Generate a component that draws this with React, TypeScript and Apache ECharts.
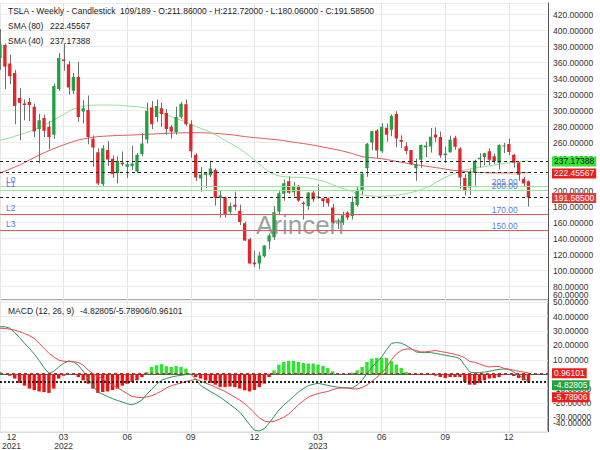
import React, { useEffect, useRef } from 'react';
import * as echarts from 'echarts';

const START = Date.UTC(2021, 11, 29);
const N = 109;
const PAD = 4;
const categories = Array.from({ length: N + PAD }, (_, i) =>
  new Date(START + i * 7 * 86400000).toISOString().slice(0, 10)
);

const openP = [366,382,359,347,316,309,311,305,277,291,
280,270,327,364,358,325,342,299,301,265,
248,208,251,240,222,235,230,231,224,246,
264,304,292,303,297,280,273,292,308,283,
245,215.3,219.8,219.4,226,190.8,191.5,173.6,182.4,175,
159.3,139.3,110.4,109.1,118,136.6,141.9,173.9,196.1,211.8,
197.9,206.2,185,180.8,197.6,191.3,190.5,190.7,179.1,160.3,
160,172.6,168.4,182,199.8,228,260.2,275.1,249.2,278.8,
276.3,296,263.3,255.6,250.9,228,238.7,254.2,255.1,270.1,
267,244.3,248.1,266.2,252.7,215.9,204,223.2,239.3,242,
249.2,242.9,234.8,256.4,258.4,245,235.1,214.9,211.86];
const highP = [402,384,370,351,328,314,316,309,296,295,
287,334,372,384,362,347,361,313,319,269,
253,257,262,244,243,249,237,256,247,272,
310,312,314,310,302,282,305,311,314,288,
246.7,229.8,222.9,237.4,227.8,200.8,192.6,185.2,198.9,182.5,
161.6,141.3,124.5,123.5,131.7,146.5,180.7,199.3,214,217.7,
211.2,207.2,186.5,198,200.7,207.8,190.7,191.6,183.5,165,
173.8,174.4,193,204.5,221.9,259.7,274.8,277,284.3,283.9,
295.3,299.3,269.1,260.5,250.9,240,257.5,261.2,278.4,279,
273.9,254.8,268.9,268.6,254.6,220.6,226.4,238.8,246.7,247.5,
252.8,246.7,258,259.8,265.1,245.7,235.5,217,212.72];
const lowP = [351,327,333,283,263,288,287,267,234,267,
252,265,325,350,320,321,286,284,258,230,
207,206,231,216,209,231,216,226,222,243,
259,277,286,280,270,265,270,290,281,241,
212,198.6,203.5,217,181.4,166.2,166.2,170,175.3,156.9,
137.1,108.8,104.6,101.8,116.5,127,138.5,169.5,187.6,196,
192.8,186,163.9,176.1,185.8,189.8,179.7,180.2,158.8,152.4,
157.2,163.3,164,180,195.1,217.3,250.9,240.7,247.3,261.2,
268.1,254.1,253.5,245.3,232.4,212.4,228.6,242.1,247.6,260.6,
241,234.6,247.6,251,202.5,194.1,194.6,206.2,229,231.5,
231.9,233.3,226.4,247,244.4,228.9,212.4,206,180.06];
const closeP = [383,355,343,306,310,307,307,274,288,275,
267,331,366,362,329,342,292,303,267,254,
209,253,239,221,237,233,233,234,245,259,
300,283,306,296,277,274,292,308.7,283,249.4,
216.5,220.2,222.4,227.8,191.3,194.4,169.9,180.8,179.8,161,
137.8,109.1,108.1,118.9,131.5,143.9,173.2,196.8,209.3,197.4,
205.7,187.7,183.3,197.6,189.2,192.6,186.8,184.3,160.7,160.3,
169.2,166.5,185.8,201.2,221.3,258.7,274.5,250.2,279.8,269.8,
293.3,265.3,261.1,249.7,233,233.2,257.2,256.5,267.5,266.5,
244.1,246.5,263.6,254.9,216.5,200.8,222.2,237.4,241.2,246.7,
238.7,237,257.2,256.6,248.4,235,219.9,209.1,191.585];

const sma40 = [263,264.5,266,268,270,272,274,276,279,282,
285,288,292,295.5,299,302,304,305.5,306.5,307,
307,307,307,307,307,306.5,306,305.5,305,304,
303,301,299,297,295,292.5,290,288,286,283,
280.5,278,275.5,273,270,266.5,263,259.5,256,252.5,
248,243.5,238.5,233,228,223.5,220.5,218.5,217.5,217,
216.8,216.6,216.3,216,215,213.5,212,210,207.5,205,
203,201,199,196.5,195,194,193.5,193,193,193.2,
193.6,194.3,195.2,196.3,197.7,199.3,201.2,203.5,206.5,210,
213.5,216.5,219.3,221.8,224,225.8,227.2,228.4,229.3,230,
231,232,233,234,234.8,235.6,236.2,236.8,237.17388];
const sma80 = [222,224.5,227,229.5,232,235,238.2,241.4,244.6,247.3,
250,252.5,255,257.2,259.4,261.5,263.4,264.6,265.7,266.7,
267.6,268,268.4,268.7,269,269.2,269.4,269.6,269.9,270.2,
270.5,270.8,271.1,271.4,271.7,271.9,272.1,272.3,272.4,272.5,
272.5,272.5,272.3,272,271.6,271.2,270.7,270.1,269.4,268.5,
267.6,267,266.4,265.8,265.2,264.6,264,263.4,262.5,261.6,
260.7,259.8,258.9,258,257,255.8,254.6,253.4,252.2,251,
249.6,248,246.5,244.5,242.5,241.8,241.2,240.6,240,238.9,
237.8,236.7,235.6,234.5,233.4,232.5,231.6,230.7,229.8,228.9,
228,227,226,225.3,224.6,224,223.5,223.1,222.8,222.6,
222.4,222.3,222.2,222.2,222.2,222.3,222.4,222.45,222.45567];

const macdLine = [33,33,32,29,25.5,21.5,18,14,9.5,4.5,
0.6,2,5,7.5,9.2,8.5,6.2,2,-3,-8,
-12.4,-14,-15.5,-17,-18.3,-19.4,-20.5,-21.3,-20,-18,
-14,-10.5,-7,-4.3,-3,-2,-1.3,-0.8,-0.3,0,
-3.5,-7.8,-10,-12,-14,-16,-18.5,-21,-23.5,-26.4,
-30.5,-35,-39,-39.5,-38,-34,-29.5,-25,-21.5,-18.5,
-15.5,-12.4,-10,-8,-7,-6.4,-7,-7.8,-8.5,-9,
-9.3,-9.5,-9.6,-7.5,-4.3,0.5,5,8.5,12,17,
21.4,22,21.6,20,17.9,15.5,15,15,15,14.5,
13.8,13.2,12.5,12,10.9,6,1.5,1,1.2,1.5,
2,2.7,3.4,3.6,3.4,1.5,-0.7,-2.8,-4.82805];
const signalLine = [32,31.8,31.3,30.6,29.6,28.3,26.8,24.9,21.5,18,
14.5,12,9.8,9,8.8,8.7,8.2,6.2,3,0.5,
-1.5,-3.5,-5,-7.5,-9.5,-11.4,-13.5,-15.5,-16,-16.3,
-15.8,-15,-13.5,-11.8,-9.5,-8,-7,-6.2,-5,-4.3,
-3.5,-4.8,-6.2,-7.5,-9,-10.5,-12,-14,-16,-18,
-20.5,-23.5,-27,-30.5,-32.5,-33.2,-32.8,-31.5,-30,-27.7,
-24.5,-21.2,-18.5,-16,-14.5,-13.5,-12.7,-12,-10.8,-9.8,
-9.6,-9.7,-10.2,-10.2,-9.3,-7.5,-5,-2.2,0.7,4.5,
10,14,16.5,17.5,17.5,16.5,15.5,15.5,16,16.5,
15.8,15.2,14.5,13.8,12.9,11.4,8.8,8.3,7.2,5.8,
5,5.4,5.4,4.1,3.4,2.8,2,1.5,0.96101];
const histogram = [1.5,0,-1,-3,-6,-8,-10,-11,-12,-12.4,
-13,-10,-3,-1,0.3,-0.3,-2,-4.3,-6.6,-10,
-13,-12.4,-12,-11,-10,-8,-6.6,-5.4,-4.3,-2,
1.5,5,6.2,7,5.5,5,5.7,5,3.9,0.4,
-2,-3,-4.3,-6,-7.3,-9,-9,-8.6,-9,-10,
-11.2,-12,-11,-9,-6.6,-2,2.7,6.7,8.5,9.2,
9.2,8.5,7.8,7.4,7.4,6.7,5.7,4.3,2,0.4,
0.2,0.2,1.1,2.7,5,8.5,10.9,11.3,11.3,11.3,
9,6.7,4.3,1.5,-0.5,-0.5,-0.5,-0.5,-0.5,-1,
-2,-2.7,-2,-2,-2,-5.4,-7.3,-7.3,-6,-4.3,
-3,-2.7,-2,-0.5,0,-1.3,-2.7,-4.3,-5.78906];

const tickIndex = [0, 13, 26, 39, 52, 65, 78, 91, 104];
const tickLabels = ['12\n2021', '03\n2022', '06', '09', '12', '03\n2023', '06', '09', '12'];

const levelValues = [205, 200, 170, 150];
const levelNames = ['L0', 'L1', 'L2', 'L3'];
const levelTexts = ['205.00', '200.00', '170.00', '150.00'];
const levelColors = ['#93e893', '#93e893', '#e05a5a', '#e05a5a'];

const lastClose = 191.585;
const lastSma80 = 222.45567;
const lastSma40 = 237.17388;
const lastMacd = -4.82805;
const lastHist = -5.78906;
const lastSignal = 0.96101;

const FONT = '"Liberation Sans", Arial, sans-serif';
const FS = 8.5;
const GREEN = '#22a042';
const RED = '#e2262b';

export default function App() {
  const ref = useRef<HTMLDivElement>(null);
  useEffect(() => {
    const chart = echarts.init(ref.current!, null, { renderer: 'svg' });
    const pad = (arr: number[]) => [...arr, ...Array(PAD).fill(null)];
    const candleData = openP.map((o, i) => [i, o, closeP[i], lowP[i], highP[i]]);
    const isTick = (i: number) => tickIndex.includes(i);

    const dashed = (v: number, color: string, type: any, width = 1) => ({
      yAxis: v,
      lineStyle: { color, type, width },
      label: { show: false },
    });

    chart.setOption({
      animation: false,
      textStyle: { fontFamily: FONT },
      grid: [
        { left: 0, right: 52, top: 3, height: 299.7, outerBoundsMode: 'none', containLabel: false },
        { left: 0, right: 52, top: 300, bottom: 18.3, show: true, borderColor: '#555', borderWidth: 1, outerBoundsMode: 'none', containLabel: false },
      ],
      xAxis: [
        {
          gridIndex: 0, type: 'category', data: categories, boundaryGap: false,
          axisLine: { show: false }, axisTick: { show: false }, axisLabel: { show: false },
          splitLine: { show: true, interval: (i: number) => isTick(i), lineStyle: { color: '#e6e6e6' } },
        },
        {
          gridIndex: 1, type: 'category', data: categories, boundaryGap: false,
          axisLine: { show: true, lineStyle: { color: '#555' } }, axisTick: { show: false },
          splitLine: { show: true, interval: (i: number) => isTick(i), lineStyle: { color: '#e6e6e6' } },
          axisLabel: {
            show: true, interval: (i: number) => isTick(i) && i > 0, fontSize: FS, color: '#333', lineHeight: 9, margin: 0.5,
            formatter: (_v: string, idx: number) => {
              const k = tickIndex.indexOf(idx);
              return k > 0 ? tickLabels[k] : '';
            },
          },
        },
      ],
      yAxis: [
        {
          gridIndex: 0, type: 'value', position: 'right', min: 60, max: 434.6, interval: 20,
          axisLine: { show: true, lineStyle: { color: '#555' } }, axisTick: { show: false },
          axisLabel: {
            fontSize: FS, color: '#333', margin: 5, showMaxLabel: false,
            formatter: (v: number) => (v % 20 === 0 && v > 60 ? v.toFixed(5) : ''),
          },
          splitLine: { lineStyle: { color: '#ececec' } },
        },
        {
          gridIndex: 1, type: 'value', position: 'right', min: -40, max: 51.6, interval: 10,
          axisLine: { show: true, lineStyle: { color: '#555' } }, axisTick: { show: false },
          axisLabel: {
            fontSize: FS, color: '#333', margin: 5, showMaxLabel: false,
            formatter: (v: number) => (Math.abs(v % 10) < 1e-6 && v > -40 ? v.toFixed(5) : ''),
          },
          splitLine: { lineStyle: { color: '#ececec' } },
        },
      ],
      series: [
        {
          name: 'SMA (80)', type: 'line', xAxisIndex: 0, yAxisIndex: 0, data: pad(sma80),
          symbol: 'none', lineStyle: { color: '#e25a5a', width: 1 }, z: 2,
          markLine: {
            silent: true, symbol: ['none', 'none'], animation: false,
            data: [
              dashed(lastSma40, '#222', [3, 3]),
              dashed(lastSma80, '#222', [3, 3]),
              dashed(lastClose, '#222', [3, 3]),
              ...levelValues.map((v, k) => dashed(v, levelColors[k], 'solid', 1.2)),
            ],
          },
        },
        {
          name: 'SMA (40)', type: 'line', xAxisIndex: 0, yAxisIndex: 0, data: pad(sma40),
          symbol: 'none', lineStyle: { color: '#8ee38e', width: 1 }, z: 2,
        },
        {
          name: 'TSLA', type: 'custom', xAxisIndex: 0, yAxisIndex: 0, data: candleData,
          encode: { x: 0, y: [1, 2, 3, 4] }, clip: true, z: 3,
          renderItem: (_p: any, api: any) => {
            const i = api.value(0);
            const o = api.value(1), c = api.value(2), l = api.value(3), h = api.value(4);
            const pO = api.coord([i, o]);
            const pC = api.coord([i, c]);
            const pL = api.coord([i, l]);
            const pH = api.coord([i, h]);
            const w = api.size([1, 0])[0] * 0.68;
            const x = Math.round(pO[0]) + 0.5;
            const up = c >= o;
            const top = Math.min(pO[1], pC[1]);
            const hgt = Math.max(1, Math.abs(pO[1] - pC[1]));
            return {
              type: 'group',
              children: [
                { type: 'line', shape: { x1: x, y1: pH[1], x2: x, y2: pL[1] }, style: { stroke: '#6e6e6e', lineWidth: 1 } },
                { type: 'rect', shape: { x: pO[0] - w / 2, y: top, width: w, height: hgt }, style: { fill: up ? GREEN : RED } },
              ],
            };
          },
        },
        {
          name: 'Histogram', type: 'bar', xAxisIndex: 1, yAxisIndex: 1, barWidth: 3.4,
          data: pad(histogram).map((v) => (v === null ? null : { value: v, itemStyle: { color: v >= 0 ? '#2fe42f' : '#ee1111' } })),
        },
        {
          name: 'MACD', type: 'line', xAxisIndex: 1, yAxisIndex: 1, data: pad(macdLine),
          symbol: 'none', lineStyle: { color: '#2f9155', width: 1 }, z: 3,
        },
        {
          name: 'Signal', type: 'line', xAxisIndex: 1, yAxisIndex: 1, data: pad(signalLine),
          symbol: 'none', lineStyle: { color: '#e24b4b', width: 1 }, z: 3,
          markLine: {
            silent: true, symbol: ['none', 'none'], animation: false,
            data: [
              dashed(lastSignal, '#a33', [3, 3]),
              dashed(lastMacd, '#222', [2, 2]),
              dashed(lastHist, '#222', [2, 2]),
            ],
          },
        },
      ],
    });

    const py = (axis: number, v: number) => chart.convertToPixel({ yAxisIndex: axis } as any, v) as unknown as number;
    const px = (idx: number) => chart.convertToPixel({ xAxisIndex: 0 } as any, idx) as unknown as number;

    const txt = (x: number, y: number, text: string, fill: string, extra: any = {}) => ({
      type: 'text', x, y, z: 100, silent: true,
      style: { text, fill, font: FS + 'px ' + FONT, align: 'left', verticalAlign: 'middle', ...extra },
    });

    const boxes = (axis: number, items: { v: number; t: string; bg: string; fg: string }[]) => {
      const arr = items.map((it) => ({ ...it, y: py(axis, it.v) })).sort((a, b) => a.y - b.y);
      for (let k = 1; k < arr.length; k++) if (arr[k].y < arr[k - 1].y + 12) arr[k].y = arr[k - 1].y + 12;
      return arr.map((it) => txt(552, it.y + 0.5, it.t, it.fg, { backgroundColor: it.bg, padding: [1, 2, 0, 2] }));
    };

    const axisBottom = py(1, -40);
    const graphics: any[] = [
      txt(8, 10.5, 'TSLA - Weekly - Candlestick', '#222'),
      txt(120, 10.5, '109/189 - O:211.86000 - H:212.72000 - L:180.06000 - C:191.58500', '#222'),
      txt(8, 25.5, 'SMA (80)', '#222'),
      txt(50, 25.5, lastSma80.toFixed(5), '#222'),
      txt(8, 40.7, 'SMA (40)', '#222'),
      txt(50, 40.7, lastSma40.toFixed(5), '#222'),
      txt(8, 311, 'MACD (12, 26, 9)', '#222'),
      txt(80, 311, lastMacd.toFixed(5) + '/' + lastHist.toFixed(5) + '/' + lastSignal.toFixed(5), '#222'),
      {
        type: 'text', x: 300, y: 225, z: 1, silent: true,
        style: { text: 'Arincen', fill: 'rgba(95,95,95,0.6)', font: '26px ' + FONT, align: 'center', verticalAlign: 'middle' },
      },
      txt(px(0) + 11.5, axisBottom + 0.5, tickLabels[0], '#333', { align: 'center', verticalAlign: 'top', lineHeight: 9 }),
      txt(553, Math.min(py(0, 60), 295), '60.00000', '#333'),
      txt(553, Math.min(axisBottom, 422.7), '-40.00000', '#333'),
      ...levelValues.map((v, k) => txt(6, py(0, v) - 2.5, levelNames[k], '#5b7be6', { verticalAlign: 'bottom' })),
      ...levelValues.map((v, k) => txt(px(100) + 2.5, py(0, v) - 0.5, levelTexts[k], '#5b7be6', { verticalAlign: 'bottom' })),
      ...boxes(0, [
        { v: lastSma40, t: lastSma40.toFixed(5), bg: '#33e833', fg: '#111' },
        { v: lastSma80, t: lastSma80.toFixed(5), bg: '#ee1c1c', fg: '#fff' },
        { v: lastClose, t: lastClose.toFixed(5), bg: '#e23a3a', fg: '#fff' },
      ]),
      ...boxes(1, [
        { v: lastSignal, t: lastSignal.toFixed(5), bg: '#ee1c1c', fg: '#fff' },
        { v: lastMacd, t: lastMacd.toFixed(5), bg: '#1fa33f', fg: '#fff' },
        { v: lastHist, t: lastHist.toFixed(5), bg: '#ee1c1c', fg: '#fff' },
      ]),
    ];
    chart.setOption({ graphic: graphics });

    return () => chart.dispose();
  }, []);
  return <div ref={ref} style={{ position: 'fixed', left: 0, top: 0, width: 600, height: 450, background: '#fff' }} />;
}
